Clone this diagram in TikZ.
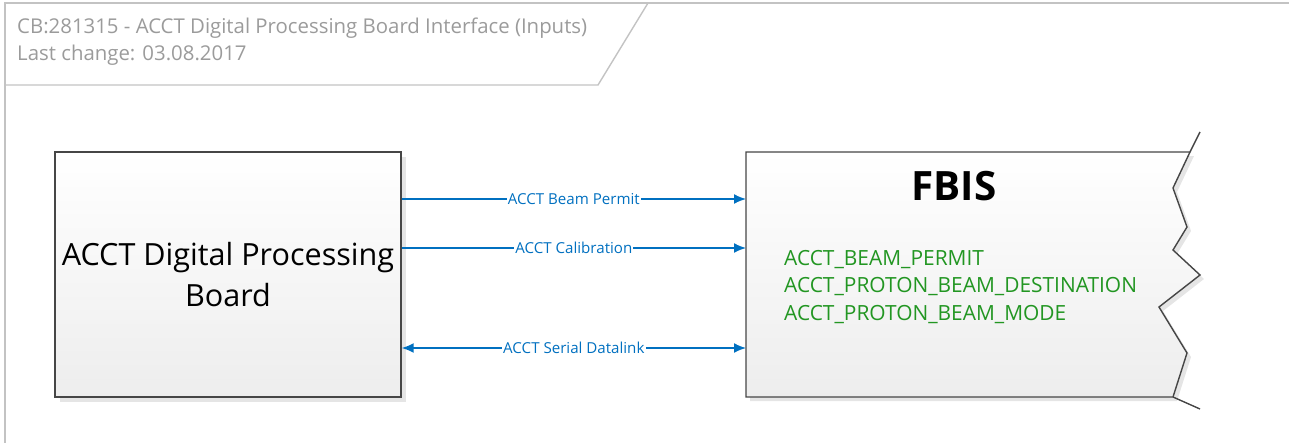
\documentclass[tikz,border=0pt]{standalone}
\usepackage{fontspec}
\setmainfont{Open Sans}
\usepackage{tikz}
\usetikzlibrary{arrows.meta}
\definecolor{linkblue}{RGB}{0,112,192}
\definecolor{sigGreen}{RGB}{34,150,34}
\definecolor{frameGray}{RGB}{195,195,195}
\definecolor{titleGray}{RGB}{155,155,155}
\definecolor{boxEdge}{RGB}{70,70,70}

\begin{document}
\begin{tikzpicture}[x=0.02cm, y=-0.02cm,
    block/.style={draw=boxEdge, line width=0.8pt, top color=white, bottom color=black!7},
    shade/.style={fill=black!10},
    link/.style={draw=linkblue, line width=0.85pt, -{Latex[length=6.8pt,width=5.6pt]}},
    linklabel/.style={fill=white, text=linkblue, inner sep=0.6pt, font=\fontsize{8.6}{9}\selectfont}]
  \useasboundingbox (0,0) rectangle (1289,443);

  % drawing frame and title block
  \draw[frameGray, line width=1.1pt] (5,443) -- (5,3) -- (1289,3);
  \draw[frameGray, line width=0.8pt] (5,85) -- (598,85) -- (648,3);
  \node[anchor=west, text=titleGray, font=\fontsize{11.6}{13}\selectfont] (title) at (11,28)
    {CB:281315 - ACCT Digital Processing Board Interface (Inputs)};
  \node[anchor=west, text=titleGray, font=\fontsize{11.6}{13}\selectfont] (change) at (11,55)
    {Last change: 03.08.2017};

  % processing board
  \fill[shade] (60,157) rectangle (406,402);
  \node[block, minimum width=6.92cm, minimum height=4.9cm, align=center,
        font=\fontsize{17.4}{23.8}\selectfont] (dpb) at (228,274.5)
    {ACCT Digital Processing\\Board};

  % FBIS, torn off on the right
  \fill[shade] (750,156) -- (1194,156) -- (1177,192) -- (1191,231) -- (1177,254)
    -- (1204,279) -- (1163,311) -- (1191,357) -- (1177,401) -- (750,401) -- cycle;
  \draw[block] (746,152) -- (1190,152) -- (1173,188) -- (1187,227) -- (1173,250)
    -- (1200,275) -- (1159,307) -- (1187,353) -- (1173,397) -- (746,397) -- cycle;
  \draw[boxEdge, line width=0.8pt] (1190,152) -- (1200,132);
  \draw[boxEdge, line width=0.8pt] (1173,397) -- (1200,409);
  \coordinate (fbis) at (746,274.5);
  \node[font=\bfseries\fontsize{23}{26}\selectfont] (fbisname) at (954,186) {FBIS};
  \node[anchor=west, align=left, text=sigGreen, font=\fontsize{11.9}{15.9}\selectfont] (signals) at (778,287)
    {ACCT\_BEAM\_PERMIT\\ACCT\_PROTON\_BEAM\_DESTINATION\\ACCT\_PROTON\_BEAM\_MODE};

  % links
  \coordinate (r1) at (0,199);
  \coordinate (r2) at (0,248);
  \coordinate (r3) at (0,348);
  \draw[link] (dpb.east |- r1) -- node[linklabel] {ACCT Beam Permit} (fbis |- r1);
  \draw[link] (dpb.east |- r2) -- node[linklabel] {ACCT Calibration} (fbis |- r2);
  \draw[link, {Latex[length=6.8pt,width=5.6pt]}-{Latex[length=6.8pt,width=5.6pt]}] (dpb.east |- r3)
    -- node[linklabel] {ACCT Serial Datalink} (fbis |- r3);
\end{tikzpicture}
\end{document}
